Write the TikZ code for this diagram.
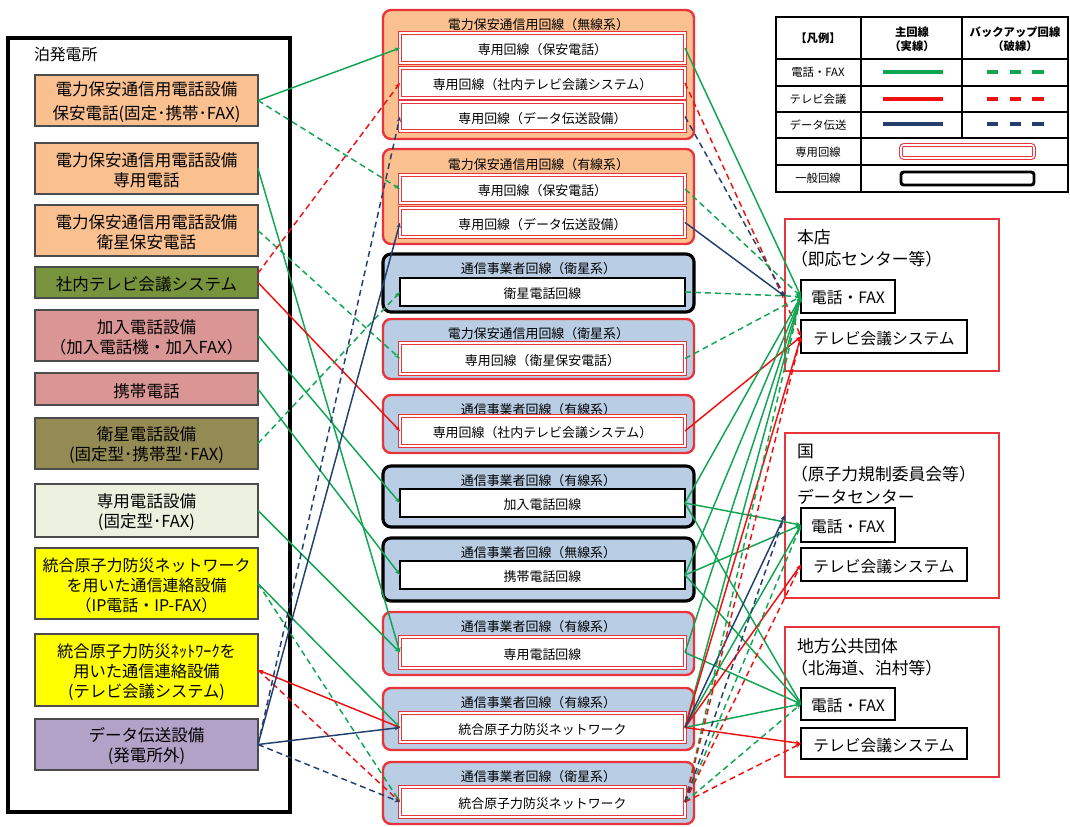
\documentclass[tikz,border=0pt]{standalone}
\usepackage{fontspec}
\setmainfont{Noto Sans CJK JP}
\usetikzlibrary{arrows.meta,fit,calc}
\definecolor{cOrange}{HTML}{FAC090}
\definecolor{cGreenBox}{HTML}{77933C}
\definecolor{cPink}{HTML}{D99694}
\definecolor{cOlive}{HTML}{948A54}
\definecolor{cPale}{HTML}{EBF1DE}
\definecolor{cYellow}{HTML}{FFFF00}
\definecolor{cLav}{HTML}{B3A2C7}
\definecolor{cBlue}{HTML}{B9CDE5}
\definecolor{bdRed}{HTML}{E8353C}
\definecolor{lnGreen}{HTML}{10A552}
\definecolor{lnRed}{HTML}{F01010}
\definecolor{lnNavy}{HTML}{243F6E}
\begin{document}
\begin{tikzpicture}[x=0.75pt,y=-0.75pt,
  every node/.style={inner sep=0pt, outer sep=0pt},
  lbox/.style={draw=black!70, line width=1.1pt},
  lt/.style={align=center, font=\fontsize{12.4}{15}\selectfont, yshift=-1.5pt},
  grpR/.style={draw=bdRed, line width=1.8pt, rounded corners=6pt},
  grpK/.style={draw=black, line width=2.4pt, rounded corners=6pt},
  inR/.style={draw=bdRed, double=white, double distance=0.9pt, line width=0.75pt, fill=white},
  inK/.style={draw=black, line width=1.8pt, fill=white},
  mt/.style={font=\fontsize{9.7}{11}\selectfont, yshift=-1.2pt},
  hdr/.style={font=\fontsize{9.7}{11}\selectfont, yshift=-2pt},
  rbox/.style={draw=bdRed, line width=2.2pt},
  sbox/.style={draw=black, line width=0.9pt},
  st/.style={font=\fontsize{11.8}{14}\selectfont, yshift=-1.2pt},
  rtxt/.style={anchor=west, font=\fontsize{12.6}{15}\selectfont},
  ltxt/.style={font=\fontsize{8.5}{10}\selectfont},
  lhdr/.style={font=\bfseries\fontsize{8.5}{10.5}\selectfont, align=center},
  tip/.style={-{Stealth[length=4pt,width=3.2pt]}},
  gS/.style={draw=lnGreen, line width=1.1pt, tip},
  gD/.style={gS, dash pattern=on 4.5pt off 3pt},
  rS/.style={draw=lnRed, line width=1.1pt, tip},
  rD/.style={rS, dash pattern=on 4.5pt off 3pt},
  nS/.style={draw=lnNavy, line width=1.1pt, tip},
  nD/.style={nS, dash pattern=on 4.5pt off 3pt},
  lgS/.style={line width=3pt},
  lgD/.style={line width=3pt, dash pattern=on 8.5pt off 8.5pt}
]
\useasboundingbox (0,0) rectangle (1070,826);
\fill[white] (0,0) rectangle (1070,826);

% ---------- plant ----------
\node[draw=black, line width=2.6pt, fit={(8,38)(290,812)}] (plant) {};
\node[anchor=west, font=\fontsize{11.9}{14}\selectfont] (plantT) at (34,55) {泊発電所};

\node[lbox, fill=cOrange, fit={(35,75)(258,126)}, label={[lt]center:{電力保安通信用電話設備\\[3pt]保安電話(固定･携帯･FAX)}}] (l1) {};
\node[lbox, fill=cOrange, fit={(35,143)(258,194)}, label={[lt]center:{電力保安通信用電話設備\\専用電話}}] (l2) {};
\node[lbox, fill=cOrange, fit={(35,205)(258,256)}, label={[lt]center:{電力保安通信用電話設備\\衛星保安電話}}] (l3) {};
\node[lbox, fill=cGreenBox, fit={(35,267)(258,298)}, label={[lt]center:{社内テレビ会議システム}}] (l4) {};
\node[lbox, fill=cPink, fit={(35,310)(258,361)}, label={[lt]center:{加入電話設備\\（加入電話機・加入FAX）}}] (l5) {};
\node[lbox, fill=cPink, fit={(35,373)(258,405)}, label={[lt]center:{携帯電話}}] (l6) {};
\node[lbox, fill=cOlive, fit={(35,418)(258,469)}, label={[lt]center:{衛星電話設備\\(固定型･携帯型･FAX)}}] (l7) {};
\node[lbox, fill=cPale, fit={(35,484)(258,537)}, label={[lt]center:{専用電話設備\\(固定型･FAX)}}] (l8) {};
\node[lbox, fill=cYellow, fit={(35,548)(258,619)}, label={[lt, font=\fontsize{12}{15}\selectfont]center:{統合原子力防災ネットワーク\\を用いた通信連絡設備\\（IP電話・IP-FAX）}}] (l9) {};
\node[lbox, fill=cYellow, fit={(35,634)(258,706)}, label={[lt, font=\fontsize{12.2}{15}\selectfont]center:{統合原子力防災ﾈｯﾄﾜｰｸを\\用いた通信連絡設備\\(テレビ会議システム)}}] (l10) {};
\node[lbox, fill=cLav, fit={(35,719)(258,770)}, label={[lt]center:{データ伝送設備\\(発電所外)}}] (l11) {};

% ---------- middle ----------
\node[grpR, fill=cOrange, fit={(383,10)(694,139)}] (g1) {};
\node[hdr] (g1h) at (538.5,22) {電力保安通信用回線（無線系）};
\node[inR, fit={(400,33)(685,63)}, label={[mt]center:{専用回線（保安電話）}}] (g1a) {};
\node[inR, fit={(400,68)(685,98)}, label={[mt]center:{専用回線（社内テレビ会議システム）}}] (g1b) {};
\node[inR, fit={(400,102)(685,131)}, label={[mt]center:{専用回線（データ伝送設備）}}] (g1c) {};

\node[grpR, fill=cOrange, fit={(383,149)(694,244)}] (g2) {};
\node[hdr] (g2h) at (538.5,162) {電力保安通信用回線（有線系）};
\node[inR, fit={(400,175)(685,203)}, label={[mt]center:{専用回線（保安電話）}}] (g2a) {};
\node[inR, fit={(400,208)(685,237)}, label={[mt]center:{専用回線（データ伝送設備）}}] (g2b) {};

\node[grpK, fill=cBlue, fit={(383,254)(694,312)}] (g3) {};
\node[hdr] (g3h) at (538.5,266) {通信事業者回線（衛星系）};
\node[inK, fit={(400,278)(685,306)}, label={[mt]center:{衛星電話回線}}] (g3i) {};

\node[grpR, fill=cBlue, fit={(383,319)(694,379)}] (g4) {};
\node[hdr] (g4h) at (538.5,331) {電力保安通信用回線（衛星系）};
\node[inR, fit={(400,343)(685,374)}, label={[mt]center:{専用回線（衛星保安電話）}}] (g4i) {};

\node[grpR, fill=cBlue, fit={(383,395)(694,453)}] (g5) {};
\node[hdr] (g5h) at (538.5,407) {通信事業者回線（有線系）};
\node[inR, fit={(400,416)(685,446)}, label={[mt]center:{専用回線（社内テレビ会議システム）}}] (g5i) {};

\node[grpK, fill=cBlue, fit={(383,466)(694,527)}] (g6) {};
\node[hdr] (g6h) at (538.5,478) {通信事業者回線（有線系）};
\node[inK, fit={(400,489)(685,517)}, label={[mt]center:{加入電話回線}}] (g6i) {};

\node[grpK, fill=cBlue, fit={(383,538)(694,601)}] (g7) {};
\node[hdr] (g7h) at (538.5,550) {通信事業者回線（無線系）};
\node[inK, fit={(400,561)(685,589)}, label={[mt]center:{携帯電話回線}}] (g7i) {};

\node[grpR, fill=cBlue, fit={(383,612)(694,675)}] (g8) {};
\node[hdr] (g8h) at (538.5,624) {通信事業者回線（有線系）};
\node[inR, fit={(400,637)(685,668)}, label={[mt]center:{専用電話回線}}] (g8i) {};

\node[grpR, fill=cBlue, fit={(383,688)(694,750)}] (g9) {};
\node[hdr] (g9h) at (538.5,700) {通信事業者回線（有線系）};
\node[inR, fit={(400,713)(685,742)}, label={[mt]center:{統合原子力防災ネットワーク}}] (g9i) {};

\node[grpR, fill=cBlue, fit={(383,762)(694,824)}] (g10) {};
\node[hdr] (g10h) at (538.5,774) {通信事業者回線（衛星系）};
\node[inR, fit={(400,787)(685,817)}, label={[mt]center:{統合原子力防災ネットワーク}}] (g10i) {};

% ---------- right ----------
\node[rbox, fit={(785,219)(999,371)}] (hq) {};
\node[rtxt] (hqT1) at (797,237) {本店};
\node[rtxt] (hqT2) at (791,259) {（即応センター等）};
\node[sbox, fit={(801,280)(895,313)}, label={[st]center:{電話・FAX}}] (hqF) {};
\node[sbox, fit={(801,320)(967,353)}, label={[st]center:{テレビ会議システム}}] (hqT) {};

\node[rbox, fit={(785,433)(999,598)}] (kuni) {};
\node[rtxt] (kuT1) at (797,451) {国};
\node[rtxt] (kuT2) at (791,474) {（原子力規制委員会等）};
\node[rtxt] (kuT3) at (797,497) {データセンター};
\node[sbox, fit={(801,508)(895,542)}, label={[st]center:{電話・FAX}}] (kF) {};
\node[sbox, fit={(801,548)(967,581)}, label={[st]center:{テレビ会議システム}}] (kT) {};

\node[rbox, fit={(785,627)(999,777)}] (loc) {};
\node[rtxt] (loT1) at (797,646) {地方公共団体};
\node[rtxt] (loT2) at (791,668) {（北海道、泊村等）};
\node[sbox, fit={(801,688)(895,720)}, label={[st]center:{電話・FAX}}] (cF) {};
\node[sbox, fit={(801,728)(967,759)}, label={[st]center:{テレビ会議システム}}] (cT) {};

\coordinate (hqD) at (hq.west |- hqF.west);
\coordinate (kD) at ($(kuni.west |- kF.west)+(0,-10)$);

% ---------- legend ----------
\draw[line width=0.8pt] (776,17) rectangle (1068,192);
\draw[line width=0.8pt] (861,17) -- (861,192);
\draw[line width=0.8pt] (962,17) -- (962,138);
\foreach \yy in {59,86,112,138,165} \draw[line width=0.8pt] (776,\yy) -- (1068,\yy);
\node[lhdr] (lgA) at (818,38) {【凡例】};
\node[lhdr] (lgB) at (912,39) {主回線\\（実線）};
\node[lhdr] (lgC) at (1015,39) {バックアップ回線\\（破線）};
\node[ltxt] (lgR1) at (818,72) {電話・FAX};
\node[ltxt] (lgR2) at (818,99) {テレビ会議};
\node[ltxt] (lgR3) at (818,125) {データ伝送};
\node[ltxt] (lgR4) at (818,152) {専用回線};
\node[ltxt] (lgR5) at (818,178) {一般回線};
\draw[lgS, lnGreen] (883,72) -- (943,72);
\draw[lgD, lnGreen] (987,72) -- (1045,72);
\draw[lgS, lnRed] (883,99) -- (943,99);
\draw[lgD, lnRed] (987,99) -- (1045,99);
\draw[lgS, lnNavy] (883,124) -- (943,124);
\draw[lgD, lnNavy] (987,124) -- (1045,124);
\draw[draw=bdRed, double=white, double distance=1.2pt, line width=0.8pt, rounded corners=2pt] (901,145) rectangle (1034,158);
\draw[draw=black, line width=2.2pt, rounded corners=2pt] (901,172) rectangle (1034,185);

% ---------- connectors: left -> middle ----------
\draw[gS] (l1.east) -- (g1a.west);
\draw[gD] (l1.east) -- (g2a.west);
\draw[gS] (l2.east) -- (g8i.west);
\draw[gD] (l3.east) -- (g4i.west);
\draw[rD] ([yshift=7pt]l4.east) -- (g1b.west);
\draw[rS] (l4.east) -- (g5i.west);
\draw[gS] (l5.east) -- (g6i.west);
\draw[gS] (l6.east) -- (g7i.west);
\draw[gD] (l7.east) -- (g3i.west);
\draw[gS] (l8.east) -- (g8i.west);
\draw[gS] (l9.east) -- (g9i.west);
\draw[gD] (l9.east) -- (g10i.west);
\draw[rS] (g9i.west) -- (l10.east);
\draw[rD] (l10.east) -- (g10i.west);
\draw[nS] (l11.east) -- (g9i.west);
\draw[nD] (l11.east) -- (g10i.west);
\draw[nS] (l11.east) -- (g2b.west);
\draw[nD] (l11.east) -- (g1c.west);

% ---------- connectors: middle -> right ----------
\draw[gS] (g1a.east) -- (hqF.west);
\draw[rD] (g1b.east) -- (hqT.west);
\draw[nD] (g1c.east) -- (hqD);
\draw[gD] (g2a.east) -- (hqF.west);
\draw[nS] (g2b.east) -- (hqD);
\draw[gD] (g3i.east) -- (hqF.west);
\draw[gD] (g4i.east) -- (hqF.west);
\draw[rS] (g5i.east) -- (hqT.west);
\foreach \t in {hqF,kF,cF} \draw[gS] (g6i.east) -- (\t.west);
\foreach \t in {hqF,kF,cF} \draw[gS] (g7i.east) -- (\t.west);
\foreach \t in {hqF,cF} \draw[gS] (g8i.east) -- (\t.west);
\foreach \t in {hqF,kF,cF} \draw[gS] (g9i.east) -- (\t.west);
\foreach \t in {hqT,kT,cT} \draw[rS] (g9i.east) -- (\t.west);
\draw[nS] (g9i.east) -- (kD);
\foreach \t in {hqF,kF,cF} \draw[gD] (g10i.east) -- (\t.west);
\foreach \t in {hqT,kT,cT} \draw[rD] (g10i.east) -- (\t.west);
\draw[nD] (g10i.east) -- (kD);
\end{tikzpicture}
\end{document}
